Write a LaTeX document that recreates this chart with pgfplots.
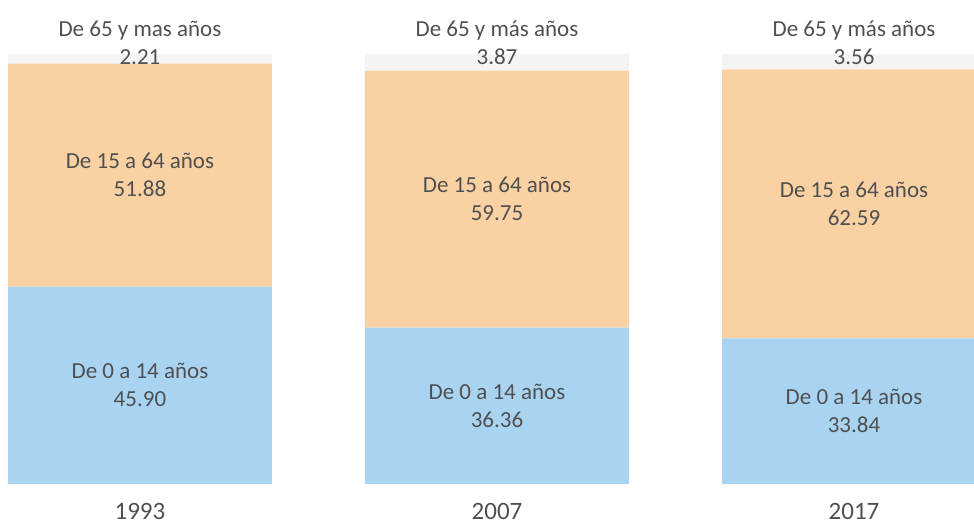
\documentclass[border=0pt]{standalone}
\usepackage{pgfplots}
\usepackage{pgfplotstable}
\pgfplotsset{compat=1.18}
\usepackage{fontspec}
\setmainfont{Carlito}
\definecolor{cblue}{HTML}{A8D4F2}
\definecolor{corange}{HTML}{FAD1A3}
\definecolor{cgray}{HTML}{F4F4F4}
\definecolor{ctext}{HTML}{505050}
% share of each age group (%)
\pgfplotstableread{
x y
0 45.90
1 36.36
2 33.84
}\young
\pgfplotstableread{
x y
0 51.88
1 59.75
2 62.59
}\adult
\pgfplotstableread{
x y
0 2.21
1 3.87
2 3.56
}\old
% label positions: middle of each segment, and above the bar for 65+
\pgfplotstableread[col sep=comma]{
x,y,label,val
0,22.95,De 0 a 14 años,45.90
1,18.18,De 0 a 14 años,36.36
2,16.92,De 0 a 14 años,33.84
0,71.84,De 15 a 64 años,51.88
1,66.235,De 15 a 64 años,59.75
2,65.135,De 15 a 64 años,62.59
0,102.6,De 65 y mas años,2.21
1,102.6,De 65 y más años,3.87
2,102.6,De 65 y más años,3.56
}\labels
\pgfplotsset{base/.style={
  scale only axis, width=974bp, height=524bp,
  xmin=-0.392, xmax=2.336, ymin=-9.30, ymax=112.56,
  at={(0,0)}, anchor=south west}}
\begin{document}
\begin{tikzpicture}
\begin{axis}[base,
  ybar stacked, bar width=264bp,
  axis line style={draw=none}, tick style={draw=none},
  ytick=\empty, xtick={0,1,2}, xticklabels={1993,2007,2017},
  xticklabel style={anchor=center, yshift=12.5bp, font=\fontsize{25bp}{28bp}\selectfont, text=ctext},
]
\addplot[fill=cblue, draw=none] table[x=x, y=y] {\young};
\addplot[fill=corange, draw=none] table[x=x, y=y] {\adult};
\addplot[fill=cgray, draw=none] table[x=x, y=y] {\old};
\end{axis}
\begin{axis}[base, hide axis]
\addplot[only marks, mark=none,
  point meta=explicit symbolic,
  visualization depends on={\thisrow{val} \as \val},
  nodes near coords={\pgfplotspointmeta\\\pgfmathprintnumber[assume math mode=true,fixed,precision=2,fixed zerofill]{\val}},
  every node near coord/.style={font=\fontsize{23bp}{28bp}\selectfont, text=ctext, align=center, anchor=center}]
  table[x=x, y=y, meta=label] {\labels};
\end{axis}
\end{tikzpicture}
\end{document}
